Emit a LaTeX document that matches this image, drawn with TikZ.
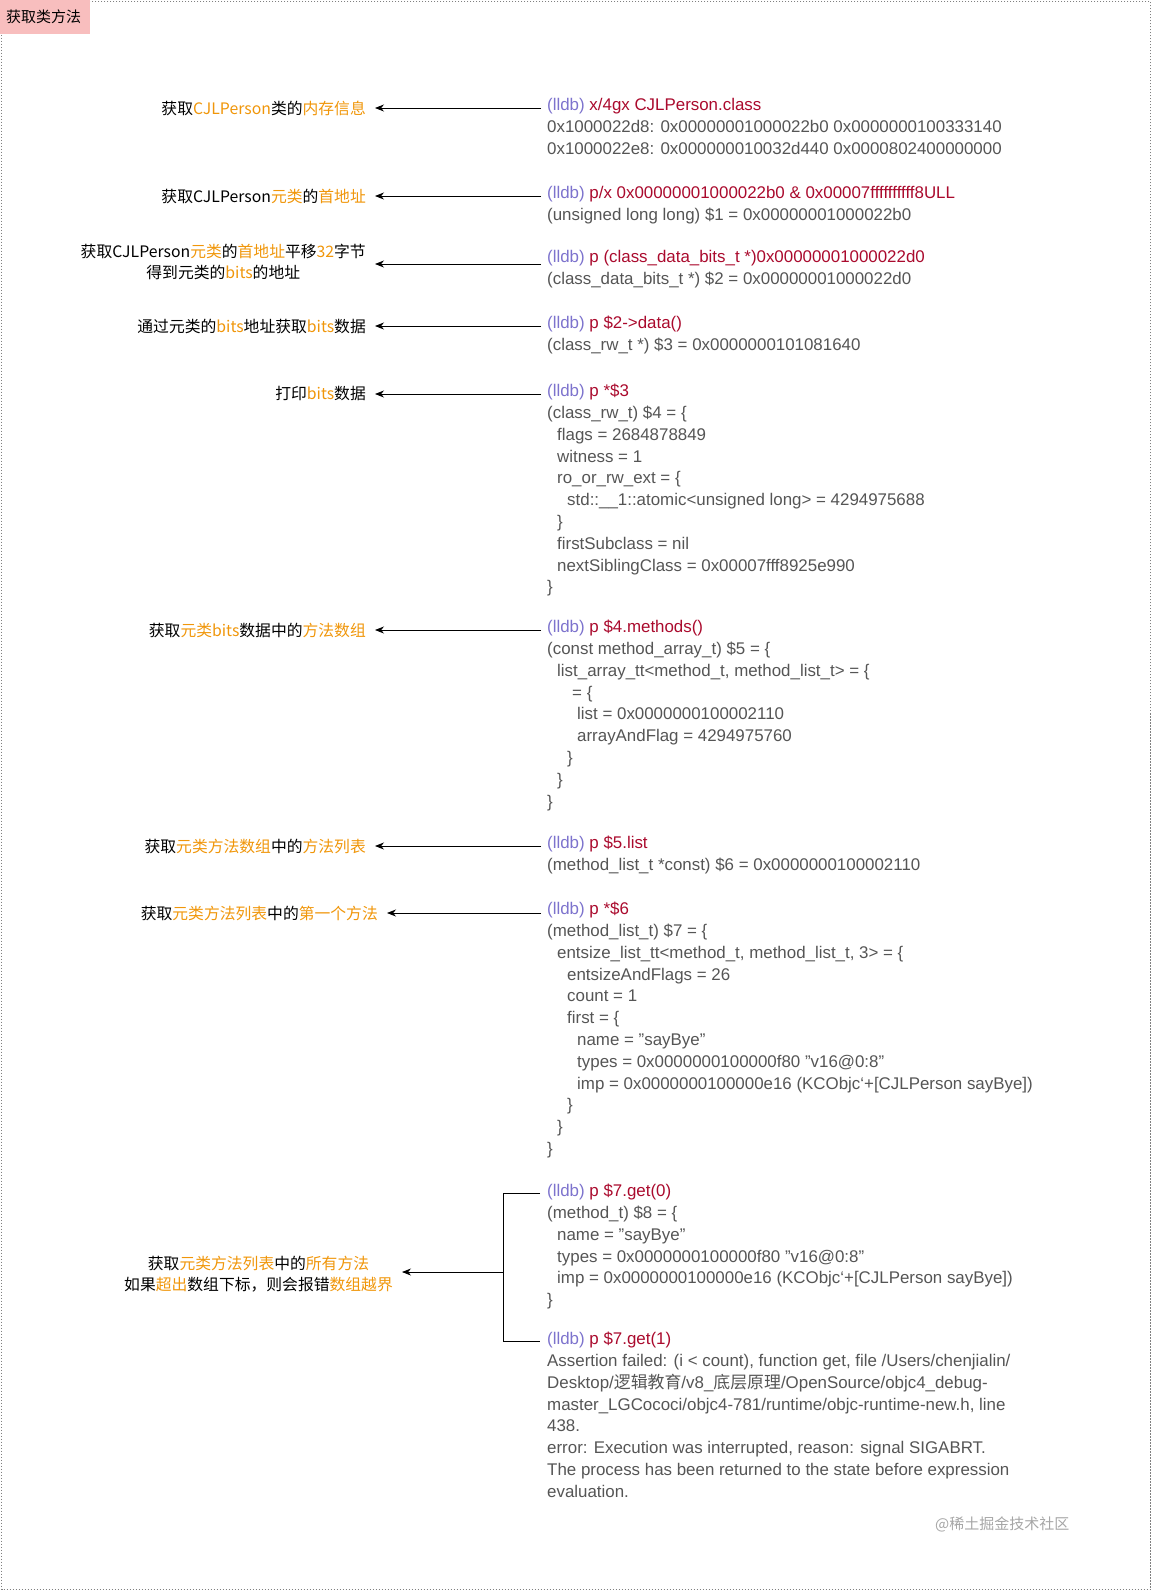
\documentclass[tikz,border=0pt]{standalone}
\usepackage{fontspec}
\setmainfont{Liberation Sans}[Ligatures=NoCommon]
\newfontfamily\cjk{Noto Sans CJK SC}
\usetikzlibrary{arrows.meta}
\definecolor{lld}{RGB}{125,115,205}
\definecolor{cmd}{RGB}{170,10,45}
\definecolor{gt}{RGB}{85,85,85}
\definecolor{og}{RGB}{240,150,10}
\definecolor{pk}{RGB}{248,190,190}
\newcommand{\LLx}{\textcolor{lld}{(lldb)}}
\newcommand{\CMx}[1]{\textcolor{cmd}{#1}}
\newcommand{\OGx}[1]{\textcolor{og}{#1}}
\newcommand{\INx}[1]{\hspace*{#1pt}}
\newcommand{\Q}{\symbol{34}}
\newcommand{\BQ}{\symbol{96}}
\begin{document}
\begin{tikzpicture}[x=1pt,y=-1pt,
  code/.style={anchor=north west,inner sep=0pt,align=left,text=gt,font=\fontsize{16.9}{21.8}\selectfont},
  lab/.style={anchor=east,inner sep=0pt,align=center,font=\cjk\fontsize{15.8}{21.7}\selectfont},
  arr/.style={-{Stealth[length=9pt,width=7pt]},line width=0.8pt}]
\useasboundingbox (0,0) rectangle (1152,1591);
\draw[dash pattern=on 1.5pt off 1.5pt,gray,line width=0.6pt] (1.5,1.5) rectangle (1150.5,1589.5);
\fill[pk] (0,0) rectangle (90,34);
\node[anchor=west,inner sep=0pt,font=\cjk\fontsize{15}{18}\selectfont] (title) at (6,17) {获取类方法};

\node[code] (c1) at (547,98) {\LLx\ \CMx{x/4gx CJLPerson.class}\\0x1000022d8: 0x00000001000022b0 0x0000000100333140\\0x1000022e8: 0x000000010032d440 0x0000802400000000};
\node[code] (c2) at (547,186) {\LLx\ \CMx{p/x 0x00000001000022b0 \& 0x00007ffffffffff8ULL}\\(unsigned long long) \$1 = 0x00000001000022b0};
\node[code] (c3) at (547,250) {\LLx\ \CMx{p (class\_data\_bits\_t *)0x00000001000022d0}\\(class\_data\_bits\_t *) \$2 = 0x00000001000022d0};
\node[code] (c4) at (547,316) {\LLx\ \CMx{p \$2->data()}\\(class\_rw\_t *) \$3 = 0x0000000101081640};
\node[code] (c5) at (547,384) {\LLx\ \CMx{p *\$3}\\(class\_rw\_t) \$4 = \{\\\INx{10}flags = 2684878849\\\INx{10}witness = 1\\\INx{10}ro\_or\_rw\_ext = \{\\\INx{20}std::\_\_1::atomic<unsigned long> = 4294975688\\\INx{10}\}\\\INx{10}firstSubclass = nil\\\INx{10}nextSiblingClass = 0x00007fff8925e990\\\}};
\node[code] (c6) at (547,620) {\LLx\ \CMx{p \$4.methods()}\\(const method\_array\_t) \$5 = \{\\\INx{10}list\_array\_tt<method\_t, method\_list\_t> = \{\\\INx{25}= \{\\\INx{30}list = 0x0000000100002110\\\INx{30}arrayAndFlag = 4294975760\\\INx{20}\}\\\INx{10}\}\\\}};
\node[code] (c7) at (547,836) {\LLx\ \CMx{p \$5.list}\\(method\_list\_t *const) \$6 = 0x0000000100002110};
\node[code] (c8) at (547,902) {\LLx\ \CMx{p *\$6}\\(method\_list\_t) \$7 = \{\\\INx{10}entsize\_list\_tt<method\_t, method\_list\_t, 3> = \{\\\INx{20}entsizeAndFlags = 26\\\INx{20}count = 1\\\INx{20}first = \{\\\INx{30}name = \Q sayBye\Q\\\INx{30}types = 0x0000000100000f80 \Q v16@0:8\Q\\\INx{30}imp = 0x0000000100000e16 (KCObjc\BQ+[CJLPerson sayBye])\\\INx{20}\}\\\INx{10}\}\\\}};
\node[code] (c9) at (547,1184) {\LLx\ \CMx{p \$7.get(0)}\\(method\_t) \$8 = \{\\\INx{10}name = \Q sayBye\Q\\\INx{10}types = 0x0000000100000f80 \Q v16@0:8\Q\\\INx{10}imp = 0x0000000100000e16 (KCObjc\BQ+[CJLPerson sayBye])\\\}};
\node[code] (c10) at (547,1332) {\LLx\ \CMx{p \$7.get(1)}\\Assertion failed: (i < count), function get, file /Users/chenjialin/\\Desktop/{\cjk 逻辑教育}/v8\_{\cjk 底层原理}/OpenSource/objc4\_debug-\\master\_LGCococi/objc4-781/runtime/objc-runtime-new.h, line\\438.\\error: Execution was interrupted, reason: signal SIGABRT.\\The process has been returned to the state before expression\\evaluation.};

\node[lab] (l1) at (366,108) {获取\OGx{CJLPerson}类的\OGx{内存信息}};
\node[lab] (l2) at (366,196) {获取CJLPerson\OGx{元类}的\OGx{首地址}};
\node[lab] (l3) at (366,262) {获取CJLPerson\OGx{元类}的\OGx{首地址}平移\OGx{32}字节\\得到元类的\OGx{bits}的地址};
\node[lab] (l4) at (366,326) {通过元类的\OGx{bits}地址获取\OGx{bits}数据};
\node[lab] (l5) at (366,394) {打印\OGx{bits}数据};
\node[lab] (l6) at (366,630) {获取\OGx{元类bits}数据中的\OGx{方法数组}};
\node[lab] (l7) at (366,846) {获取\OGx{元类方法数组}中的\OGx{方法列表}};
\node[lab] (l8) at (378,913) {获取\OGx{元类方法列表}中的\OGx{第一个方法}};
\node[lab] (l9) at (393,1274) {获取\OGx{元类方法列表}中的\OGx{所有方法}\\如果\OGx{超出}数组下标，则会报错\OGx{数组越界}};

\foreach \i/\y in {1/108,2/196,3/264,4/326,5/394,6/630,7/846,8/913}{
  \coordinate (s\i) at (541,\y);
  \draw[arr] (s\i) -- ([xshift=9pt]l\i.east |- s\i);
}
\coordinate (g0) at (540,1193);
\coordinate (g1) at (540,1341);
\coordinate (v0) at (503,1193);
\coordinate (v1) at (503,1341);
\coordinate (vm) at (503,1272);
\draw[line width=0.8pt] (g0) -- (v0) -- (v1) -- (g1);
\draw[arr] (vm) -- ([xshift=9pt]l9.east |- vm);
\node[anchor=west,inner sep=0pt,text=gray!70,font=\cjk\fontsize{15}{18}\selectfont] (wm) at (935,1524) {@稀土掘金技术社区};
\end{tikzpicture}
\end{document}
